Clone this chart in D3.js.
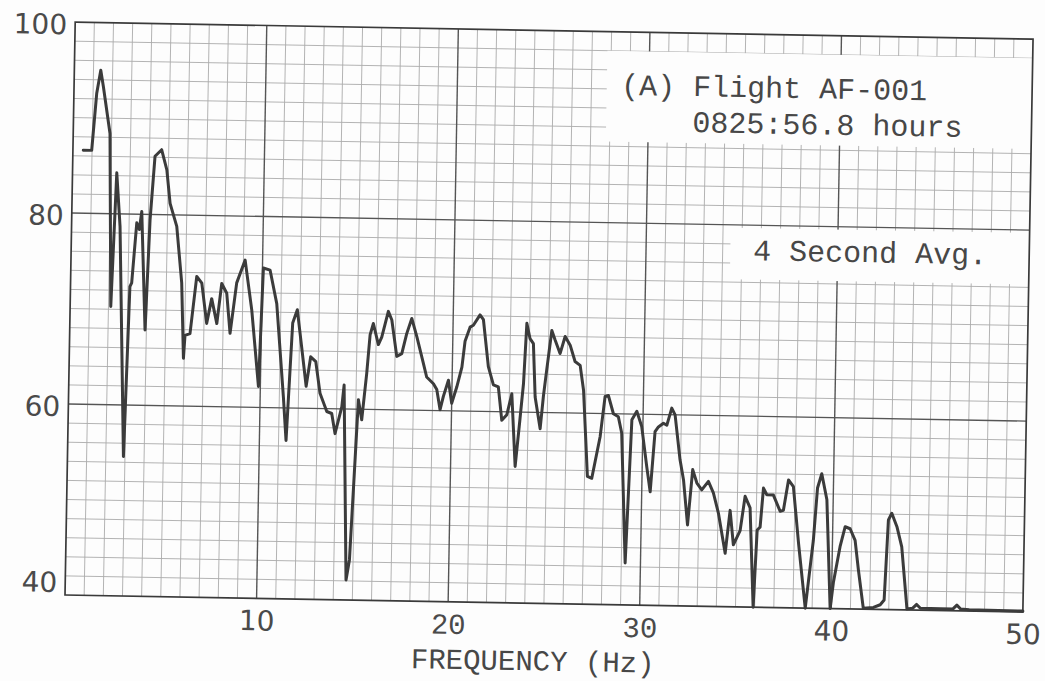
<!DOCTYPE html>
<html>
<head>
<meta charset="utf-8">
<script src="https://cdn.jsdelivr.net/npm/d3@7"></script>
<style>
  body { margin: 0; background: #fff; }
</style>
</head>
<body>
<svg id="chart" width="1045" height="681"></svg>
<script>
// spectrum trace (Hz , level)
const freqHz = [0.54,0.98,1.19,1.38,1.53,1.92,2.12,2.31,2.53,2.92,3.1,3.19,3.4,3.54,3.65,3.93,4.09,4.29,4.63,4.92,
  5.12,5.49,5.8,5.96,6.02,6.28,6.58,6.85,7.14,7.38,7.67,7.89,8.16,8.37,8.67,9.09,9.48,9.9,10.05,10.4,
  10.78,11.21,11.39,11.63,11.86,12.12,12.39,12.6,12.87,13.12,13.49,13.75,13.94,14.27,14.37,14.65,14.81,14.95,15.13,15.32,
  15.54,15.68,15.84,16.12,16.29,16.61,16.8,17.09,17.35,17.59,17.84,18.12,18.49,18.67,19.03,19.21,19.4,19.56,19.81,20.0,
  20.25,20.5,20.64,20.89,21.06,21.4,21.58,21.88,22.16,22.42,22.63,22.89,23.13,23.37,23.58,23.73,23.85,24.03,24.21,24.35,
  24.64,24.78,24.93,25.16,25.34,25.61,25.86,26.13,26.4,26.67,26.87,27.15,27.38,27.78,28.0,28.17,28.45,28.71,28.9,29.2,
  29.42,29.67,29.94,30.24,30.44,30.64,30.81,31.07,31.25,31.49,31.67,31.97,32.17,32.42,32.64,32.87,33.13,33.47,33.74,34.02,
  34.41,34.63,34.83,35.17,35.4,35.67,35.92,36.06,36.21,36.35,36.53,36.87,37.24,37.41,37.65,37.91,38.23,38.64,39.0,39.17,
  39.38,39.67,39.94,40.09,40.4,40.65,40.91,41.18,41.38,41.67,42.2,42.55,42.75,42.9,43.07,43.35,43.62,43.95,44.25,44.45,
  44.65,45.7,46.35,46.55,46.75,47.2,50.0];
const levelDb = [86.6,86.6,92.6,95.0,93.3,88.4,70.3,84.3,78.7,54.6,72.4,72.8,79.1,78.4,80.3,67.9,79.4,86.1,86.8,84.7,
  81.2,78.8,72.9,65.0,67.4,67.6,73.6,72.9,68.7,71.3,68.7,72.9,71.9,67.7,73.0,75.4,70.2,62.2,74.6,74.4,
  70.9,61.2,56.6,68.9,70.3,66.4,62.3,65.4,64.9,61.6,59.7,59.5,57.4,60.2,62.5,42.1,44.2,51.5,61.0,58.9,
  63.8,67.8,69.0,66.8,67.6,70.3,69.4,65.6,65.9,68.0,69.6,67.7,64.9,63.5,62.8,62.2,60.1,61.5,63.2,60.8,
  62.5,64.6,67.3,68.8,69.0,70.1,69.6,64.7,62.8,62.6,59.1,59.7,61.9,54.3,59.3,63.0,69.3,67.7,67.2,61.6,
  58.3,61.7,64.5,68.6,67.6,66.2,68.0,67.1,65.4,65.0,62.4,53.4,53.2,57.6,61.8,61.9,60.0,59.7,58.0,44.4,
  59.4,60.3,58.7,54.5,51.9,58.2,58.7,59.1,58.9,60.7,60.0,55.3,53.2,48.5,54.3,52.9,52.2,53.1,51.9,49.8,
  45.6,50.1,46.5,48.0,51.6,50.4,40.0,48.1,48.4,52.5,51.8,51.8,50.1,50.2,53.4,52.7,46.8,40.0,47.1,52.6,
  54.1,51.4,40.0,42.8,46.5,48.6,48.4,47.2,44.1,40.1,40.2,40.5,41.0,49.4,50.1,48.7,46.6,40.1,40.2,40.6,
  40.2,40.2,40.2,40.6,40.2,40.15,40.1];

const xTicks = [10, 20, 30, 40, 50];
const yTicks = [40, 60, 80, 100];
const typedTicks = [20, 30];          // these two were typed, the rest are printed
const caption = ["(A) Flight AF-001", "0825:56.8 hours"];
const note = "4 Second Avg.";
const xTitle = "FREQUENCY (Hz)";

// plot frame (before the scan tilt)
const plotLeft = 65, plotRight = 1023, plotTop = 22, plotBottom = 595;
const tilt = 1.02;   // the paper was scanned a little crooked

const mono = "'Liberation Mono', 'Courier New', monospace";
const sans = "'DejaVu Sans', sans-serif";

const svg = d3.select("#chart");
svg.append("rect").attr("width", 1045).attr("height", 681).attr("fill", "#fdfdfd");

const g = svg.append("g")
    .attr("transform", "rotate(" + tilt + "," + plotLeft + "," + plotBottom + ")");

const x = d3.scaleLinear().domain([0, 50]).range([plotLeft, plotRight]);
const y = d3.scaleLinear().domain([40, 100]).range([plotBottom, plotTop]);

// minor grid, 1 Hz by 2 units
let grid = g.append("g").attr("class", "grid");
grid.selectAll(".vminor")
    .data(d3.range(1, 50).filter(d => d % 10 != 0))
    .enter().append("line")
    .attr("x1", d => x(d)).attr("x2", d => x(d))
    .attr("y1", plotTop).attr("y2", plotBottom)
    .attr("stroke", "#ababab").attr("stroke-width", 0.9);
grid.selectAll(".hminor")
    .data(d3.range(42, 100, 2).filter(d => d % 20 != 0))
    .enter().append("line")
    .attr("y1", d => y(d)).attr("y2", d => y(d))
    .attr("x1", plotLeft).attr("x2", plotRight)
    .attr("stroke", "#ababab").attr("stroke-width", 0.9);

// heavy lines every 10 Hz / 20 units
grid.selectAll(".vmajor")
    .data([10, 20, 30, 40])
    .enter().append("line")
    .attr("x1", d => x(d)).attr("x2", d => x(d))
    .attr("y1", plotTop).attr("y2", plotBottom)
    .attr("stroke", "#555").attr("stroke-width", 1.4);
grid.selectAll(".hmajor")
    .data([60, 80])
    .enter().append("line")
    .attr("y1", d => y(d)).attr("y2", d => y(d))
    .attr("x1", plotLeft).attr("x2", plotRight)
    .attr("stroke", "#555").attr("stroke-width", 1.4);

// white label patches pasted over the grid
g.append("rect")
    .attr("x", x(27.8)).attr("y", y(98))
    .attr("width", x(50) - x(27.8)).attr("height", y(88.5) - y(98))
    .attr("fill", "#fdfdfd");
g.append("rect")
    .attr("x", x(34.4)).attr("y", y(79.7))
    .attr("width", x(50) - x(34.4)).attr("height", y(74.3) - y(79.7))
    .attr("fill", "#fdfdfd");

// frame
g.append("rect")
    .attr("x", plotLeft).attr("y", plotTop)
    .attr("width", plotRight - plotLeft).attr("height", plotBottom - plotTop)
    .attr("fill", "none").attr("stroke", "#3a3a3a").attr("stroke-width", 1.7);

// the trace
let pts = freqHz.map((f, i) => [f, levelDb[i]]);
g.append("path")
    .datum(pts)
    .attr("d", d3.line().x(d => x(d[0])).y(d => y(d[1])))
    .attr("fill", "none")
    .attr("stroke", "#3b3b3b")
    .attr("stroke-width", 3)
    .attr("stroke-linejoin", "round")
    .attr("stroke-linecap", "round");

// axes, labels only
let xAxis = g.append("g")
    .attr("transform", "translate(0," + plotBottom + ")")
    .call(d3.axisBottom(x).tickValues(xTicks).tickSize(0).tickPadding(32));
xAxis.select(".domain").remove();
xAxis.selectAll("text")
    .attr("dy", 0)
    .attr("fill", "#4a4a4a")
    .style("font-family", d => typedTicks.includes(d) ? mono : sans)
    .style("font-size", d => typedTicks.includes(d) ? "29px" : "28px");

let yAxis = g.append("g")
    .attr("transform", "translate(" + plotLeft + ",0)")
    .call(d3.axisLeft(y).tickValues(yTicks).tickSize(0).tickPadding(8));
yAxis.select(".domain").remove();
yAxis.selectAll("text")
    .attr("dy", d => d == 40 ? "-0.12em" : "0.42em")
    .attr("fill", "#4a4a4a")
    .style("font-family", sans)
    .style("font-size", "28px");

// typed captions
let typed = g.append("g")
    .attr("fill", "#474747")
    .style("font-family", mono)
    .style("font-size", "30px");

typed.append("text").attr("x", plotLeft + 547).attr("y", plotTop + 63).text(caption[0]);
typed.append("text").attr("x", plotLeft + 619).attr("y", plotTop + 99).text(caption[1]);
typed.append("text").attr("x", plotLeft + 682).attr("y", plotTop + 226).text(note);
typed.append("text").attr("x", plotLeft + 347).attr("y", plotBottom + 67)
    .style("font-size", "29px").text(xTitle);
</script>
</body>
</html>
